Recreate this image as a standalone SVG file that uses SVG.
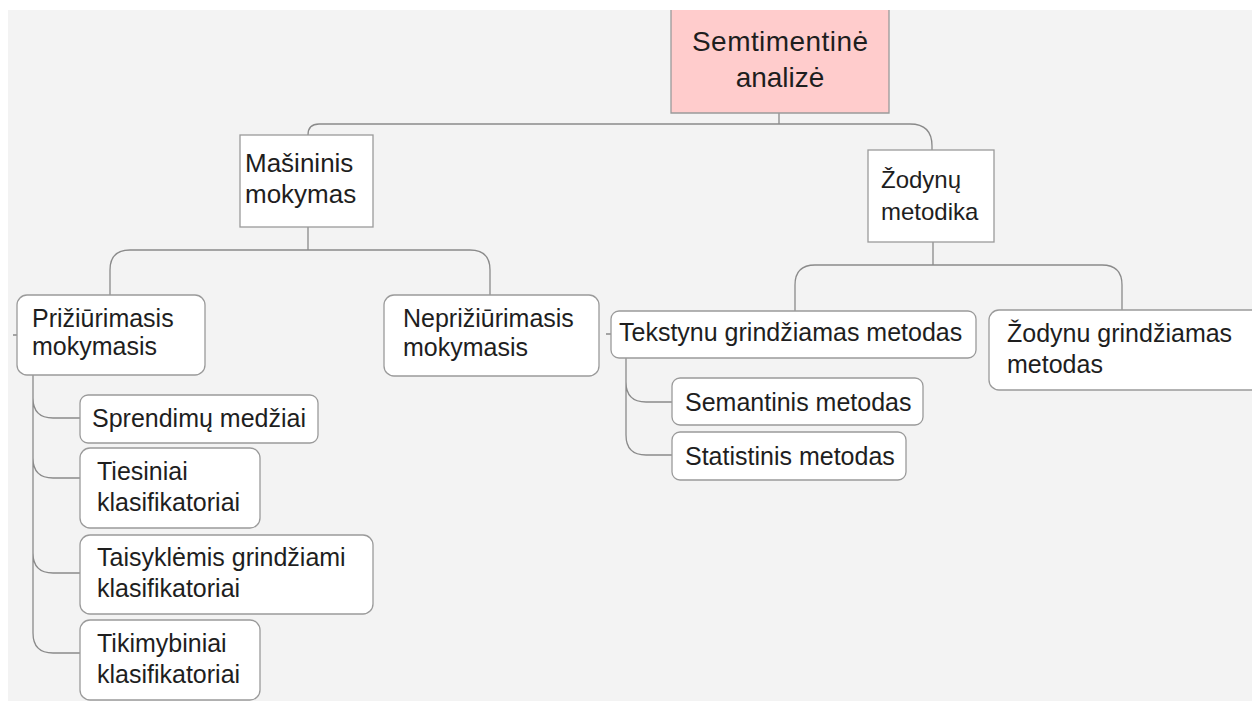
<svg xmlns="http://www.w3.org/2000/svg" width="1252" height="701" viewBox="0 0 1252 701">
<style>
text{font-family:"Liberation Sans",Arial,sans-serif;font-size:25px;fill:#1e1e1e}
.box{fill:#fff;stroke:#9a9a9a;stroke-width:1.3}
.conn{fill:none;stroke:#8a8a8a;stroke-width:1.3}
</style>
<rect x="0" y="0" width="1252" height="701" fill="#fff"/>
<rect x="8" y="10" width="1244" height="691" fill="#f3f3f3"/>
<g id="connectors" class="conn">
<path d="M779,113 V124 M779,124 H319 Q308,124 308,135 M779,124 H910 Q932,124 932,146 V150"/>
<path d="M308,227 V250 M308,250 H130 Q110,250 110,270 V295 M308,250 H470 Q490,250 490,270 V295"/>
<path d="M933,242 V265 M933,265 H815 Q795,265 795,285 V311 M933,265 H1102 Q1122,265 1122,285 V310"/>
<path d="M33,375 V633 Q33,653 53,653 H80 M33,398 Q33,418 53,418 H80 M33,458 Q33,478 53,478 H80 M33,553 Q33,573 53,573 H80"/>
<path d="M626,358 V382 Q626,402 646,402 H672 M626,382 V435 Q626,455 646,455 H672"/>
<path d="M13,335 H17 M606,334 H611"/>
</g>
<g id="root">
<rect x="671" y="10" width="218" height="103" fill="#ffcccc"/>
<path d="M671,10 V113 H889 V10" fill="none" stroke="#9a9a9a" stroke-width="1.3"/>
<text x="780" y="51" text-anchor="middle" style="font-size:28px" textLength="176">Semtimentinė</text>
<text x="780" y="87" text-anchor="middle" style="font-size:28px">analizė</text>
</g>
<g id="masininis">
<rect class="box" x="240" y="135" width="133" height="92"/>
<text x="245" y="172" style="font-size:26px">Mašininis</text>
<text x="245" y="203" style="font-size:26px">mokymas</text>
</g>
<g id="zodynu-metodika">
<rect class="box" x="868" y="150" width="126" height="92"/>
<text x="881" y="188" style="font-size:24px">Žodynų</text>
<text x="881" y="220" style="font-size:24px">metodika</text>
</g>
<g id="priziurimasis">
<rect class="box" x="17" y="295" width="188" height="80" rx="10"/>
<text x="32" y="327">Prižiūrimasis</text>
<text x="32" y="355">mokymasis</text>
</g>
<g id="nepriziurimasis">
<rect class="box" x="384" y="295" width="215" height="81" rx="10"/>
<text x="403" y="327">Neprižiūrimasis</text>
<text x="403" y="356">mokymasis</text>
</g>
<g id="tekstynu">
<rect class="box" x="611" y="311" width="365" height="47" rx="8"/>
<text x="619" y="341">Tekstynu grindžiamas metodas</text>
</g>
<g id="zodynu-grindziamas">
<rect class="box" x="989" y="310" width="275" height="80" rx="10"/>
<text x="1007" y="342">Žodynu grindžiamas</text>
<text x="1007" y="373">metodas</text>
</g>
<g id="semantinis">
<rect class="box" x="672" y="378" width="251" height="47" rx="8"/>
<text x="685" y="411">Semantinis metodas</text>
</g>
<g id="statistinis">
<rect class="box" x="672" y="432" width="234" height="48" rx="8"/>
<text x="685" y="465">Statistinis metodas</text>
</g>
<g id="sprendimu">
<rect class="box" x="80" y="395" width="238" height="48" rx="8"/>
<text x="92" y="427">Sprendimų medžiai</text>
</g>
<g id="tiesiniai">
<rect class="box" x="80" y="448" width="180" height="80" rx="10"/>
<text x="97" y="480">Tiesiniai</text>
<text x="97" y="511">klasifikatoriai</text>
</g>
<g id="taisyklemis">
<rect class="box" x="80" y="535" width="293" height="79" rx="10"/>
<text x="97" y="566">Taisyklėmis grindžiami</text>
<text x="97" y="597">klasifikatoriai</text>
</g>
<g id="tikimybiniai">
<rect class="box" x="80" y="620" width="180" height="80" rx="10"/>
<text x="97" y="652">Tikimybiniai</text>
<text x="97" y="683">klasifikatoriai</text>
</g>
<rect x="0" y="0" width="1252" height="10" fill="#fff"/>
</svg>
